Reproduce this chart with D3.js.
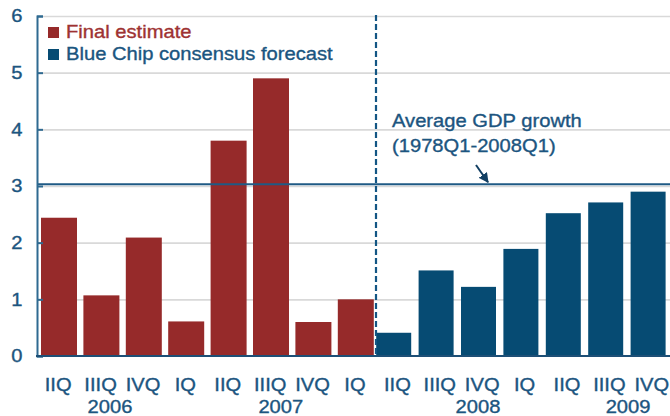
<!DOCTYPE html>
<html>
<head>
<meta charset="utf-8">
<script src="https://cdn.jsdelivr.net/npm/d3@7"></script>
<style>
  html, body { margin: 0; padding: 0; background: #fff; }
  svg { display: block; font-family: 'Liberation Sans', Arial, sans-serif; }
  svg text { stroke-width: 0.35px; }
</style>
</head>
<body>
<div id="gdpChart"></div>
<script>
// quarters on the x axis, one bar each
const quarters = ['06Q2', '06Q3', '06Q4', '07Q1', '07Q2', '07Q3', '07Q4', '08Q1',
  '08Q2', '08Q3', '08Q4', '09Q1', '09Q2', '09Q3', '09Q4'];
const quarterLabels = ['IIQ', 'IIIQ', 'IVQ', 'IQ', 'IIQ', 'IIIQ', 'IVQ', 'IQ',
  'IIQ', 'IIIQ', 'IVQ', 'IQ', 'IIQ', 'IIIQ', 'IVQ'];

// real GDP growth, %
const finalEstimate = [2.44, 1.07, 2.09, 0.61, 3.8, 4.9, 0.6, 1.0];
const blueChipForecast = [0.41, 1.51, 1.22, 1.89, 2.52, 2.71, 2.9];

// year labels sit under the quarter axis, position in quarter index units
const yearLabels = ['2006', '2007', '2008', '2009'];
const yearLabelAt = [1.72, 5.75, 10.4, 13.94];

const yTicks = [0, 1, 2, 3, 4, 5, 6];
const averageGrowth = 3.03;

const width = 670;
const height = 416;
const plot = { left: 37, right: 673, top: 16, bottom: 356 };
const stretch = 'scale(1.12,1)';

const red = '#962a2a';
const blue = '#064b73';
const textBlue = '#1c5580';

const svg = d3.select('#gdpChart')
  .append('svg')
    .attr('width', width)
    .attr('height', height);

const x = d3.scaleBand()
    .domain(quarters)
    .range([plot.left, plot.right]);

const y = d3.scaleLinear()
    .domain([0, 6])
    .range([plot.bottom, plot.top]);

const xi = d3.scaleLinear()
    .domain([0, quarters.length])
    .range([plot.left, plot.right]);

// grid
svg.append('g')
    .attr('class', 'grid')
  .selectAll('line')
  .data(yTicks.filter((d) => d > 0))
  .enter().append('line')
    .attr('x1', plot.left)
    .attr('x2', width)
    .attr('y1', (d) => y(d) + 0.5)
    .attr('y2', (d) => y(d) + 0.5)
    .attr('stroke', '#d9d9d9')
    .attr('stroke-width', 1.6);

// bars
const finalData = finalEstimate.map((v, i) => ({ key: quarters[i], value: v }));
const forecastData = blueChipForecast.map((v, i) => ({ key: quarters[finalEstimate.length + i], value: v }));

svg.append('g')
    .attr('class', 'bars-final')
  .selectAll('rect')
  .data(finalData)
  .enter().append('rect')
    .attr('x', (d) => x(d.key) + 4)
    .attr('y', (d) => y(d.value))
    .attr('width', 36)
    .attr('height', (d) => y(0) - y(d.value))
    .attr('fill', red);

svg.append('g')
    .attr('class', 'bars-forecast')
  .selectAll('rect')
  .data(forecastData)
  .enter().append('rect')
    .attr('x', (d) => x(d.key))
    .attr('y', (d) => y(d.value))
    .attr('width', 35)
    .attr('height', (d) => y(0) - y(d.value))
    .attr('fill', blue);

// average growth line
svg.append('line')
    .attr('x1', plot.left)
    .attr('x2', width)
    .attr('y1', y(averageGrowth))
    .attr('y2', y(averageGrowth))
    .attr('stroke', '#1f5a85')
    .attr('stroke-width', 2);

// divider between estimates and forecasts
const dividerX = Math.round(x(quarters[finalEstimate.length]));
svg.append('line')
    .attr('x1', dividerX)
    .attr('x2', dividerX)
    .attr('y1', y(6) - 1)
    .attr('y2', y(0))
    .attr('stroke', '#135684')
    .attr('stroke-width', 2.2)
    .attr('stroke-dasharray', '6,3');

// y axis
const yAxis = svg.append('g')
    .attr('class', 'axis-y')
    .attr('transform', 'translate(' + plot.left + ',0)')
    .call(d3.axisLeft(y)
      .tickValues(yTicks)
      .tickSize(-6)
      .tickPadding(13)
      .tickFormat(d3.format('d')));

yAxis.select('.domain')
    .attr('stroke', '#2f6a91')
    .attr('stroke-width', 2);
yAxis.selectAll('.tick line')
    .attr('stroke', '#2f6a91')
    .attr('stroke-width', 2);
yAxis.selectAll('.tick text')
    .attr('fill', textBlue)
    .attr('stroke', textBlue)
    .attr('font-size', 18)
    .attr('font-family', null)
    .attr('transform', stretch);

// x baseline
svg.append('line')
    .attr('x1', plot.left - 1)
    .attr('x2', width)
    .attr('y1', y(0))
    .attr('y2', y(0))
    .attr('stroke', '#1d4f76')
    .attr('stroke-width', 2);

// quarter labels
svg.append('g')
    .attr('class', 'labels-x')
  .selectAll('text')
  .data(quarters)
  .enter().append('g')
    .attr('transform', (d) => 'translate(' + (x(d) + x.bandwidth() / 2) + ',391) ' + stretch)
  .append('text')
    .attr('text-anchor', 'middle')
    .attr('font-size', 18)
    .attr('fill', textBlue)
    .attr('stroke', textBlue)
    .text((d, i) => quarterLabels[i]);

// year labels
svg.append('g')
    .attr('class', 'labels-year')
  .selectAll('text')
  .data(yearLabels)
  .enter().append('g')
    .attr('transform', (d, i) => 'translate(' + xi(yearLabelAt[i]) + ',413) ' + stretch)
  .append('text')
    .attr('text-anchor', 'middle')
    .attr('font-size', 18)
    .attr('fill', textBlue)
    .attr('stroke', textBlue)
    .text((d) => d);

// legend
const legendItems = [
  { name: 'Final estimate', color: red, text: '#9e3232' },
  { name: 'Blue Chip consensus forecast', color: blue, text: '#1a5580' }
];

const legend = svg.append('g')
    .attr('class', 'legend')
  .selectAll('g')
  .data(legendItems)
  .enter().append('g')
    .attr('transform', (d, i) => 'translate(48,' + (27 + i * 22) + ')');

legend.append('rect')
    .attr('width', 11)
    .attr('height', 11)
    .attr('fill', (d) => d.color);

legend.append('g')
    .attr('transform', 'translate(18,11) ' + stretch)
  .append('text')
    .attr('font-size', 18)
    .attr('fill', (d) => d.text)
    .attr('stroke', (d) => d.text)
    .text((d) => d.name);

// annotation
const note = svg.append('g')
    .attr('class', 'annotation');

['Average GDP growth', '(1978Q1-2008Q1)'].forEach((line, i) => {
  note.append('g')
      .attr('transform', 'translate(' + (dividerX + 16) + ',' + (127 + i * 25) + ') ' + stretch)
    .append('text')
      .attr('font-size', 18)
      .attr('fill', textBlue)
      .attr('stroke', textBlue)
      .text(line);
});

svg.append('defs')
  .append('marker')
    .attr('id', 'arrowHead')
    .attr('viewBox', '0 0 10 10')
    .attr('refX', 9)
    .attr('refY', 5)
    .attr('markerWidth', 5)
    .attr('markerHeight', 5)
    .attr('orient', 'auto')
  .append('path')
    .attr('d', 'M0,0L10,5L0,10z')
    .attr('fill', '#123f63');

note.append('line')
    .attr('x1', 476)
    .attr('y1', 165)
    .attr('x2', 488)
    .attr('y2', y(averageGrowth) - 2)
    .attr('stroke', '#123f63')
    .attr('stroke-width', 2)
    .attr('marker-end', 'url(#arrowHead)');
</script>
</body>
</html>
